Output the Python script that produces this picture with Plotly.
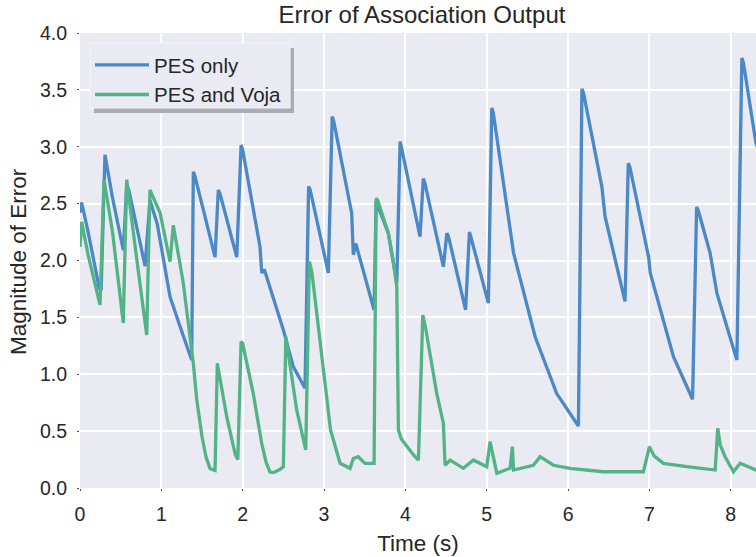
import plotly.graph_objects as go

# ---- data ----
pes_t = [0.0, 0.02, 0.10, 0.237, 0.26, 0.307, 0.40, 0.533, 0.574, 0.60, 0.80, 0.86,
         0.95, 1.107, 1.23, 1.373, 1.393, 1.41, 1.537, 1.66, 1.70, 1.72, 1.927, 1.98,
         2.00, 2.213, 2.234, 2.266, 2.50, 2.62, 2.766, 2.81, 2.83, 3.053, 3.10, 3.12,
         3.34, 3.36, 3.39, 3.615, 3.64, 3.79, 3.894, 3.935, 3.95, 4.18, 4.22, 4.24,
         4.467, 4.51, 4.53, 4.74, 4.787, 4.80, 5.02, 5.062, 5.08, 5.33, 5.595, 5.86,
         6.127, 6.17, 6.19, 6.415, 6.455, 6.70, 6.74, 6.76, 6.99, 7.01, 7.295, 7.53,
         7.58, 7.60, 7.746, 7.83, 8.075, 8.136, 8.155, 8.31, 8.35]
pes_v = [2.42, 2.51, 2.25, 1.755, 1.74, 2.93, 2.55, 2.09, 2.66, 2.62, 1.95, 2.53,
         2.32, 1.68, 1.42, 1.125, 2.78, 2.75, 2.385, 2.03, 2.62, 2.59, 2.03, 3.015,
         2.97, 2.12, 1.89, 1.92, 1.39, 1.07, 0.877, 2.65, 2.62, 1.89, 3.265, 3.22,
         2.415, 2.05, 2.15, 1.565, 2.52, 2.24, 1.80, 3.045, 3.00, 2.21, 2.72, 2.68,
         1.945, 2.24, 2.21, 1.565, 2.25, 2.22, 1.625, 3.34, 3.30, 2.065, 1.33, 0.83,
         0.545, 3.51, 3.47, 2.65, 2.385, 1.64, 2.855, 2.82, 2.03, 1.89, 1.155, 0.78,
         2.47, 2.44, 2.065, 1.71, 1.125, 3.78, 3.74, 3.03, 2.95]

voja_t = [0.0, 0.02, 0.10, 0.246, 0.295, 0.40, 0.532, 0.574, 0.70, 0.82, 0.86,
          0.984, 1.107, 1.147, 1.27, 1.393, 1.435, 1.50, 1.55, 1.60, 1.66, 1.688,
          1.804, 1.87, 1.91, 1.94, 1.98, 2.00, 2.13, 2.234, 2.29, 2.336, 2.38, 2.46,
          2.50, 2.53, 2.664, 2.775, 2.82, 2.85, 3.01, 3.08, 3.197, 3.32, 3.36, 3.42,
          3.504, 3.615, 3.64, 3.66, 3.79, 3.85, 3.894, 3.914, 3.95, 4.017, 4.10, 4.16,
          4.214, 4.25, 4.386, 4.467, 4.488, 4.55, 4.713, 4.836, 5.00, 5.041, 5.124,
          5.287, 5.315, 5.33, 5.574, 5.656, 5.82, 6.025, 6.434, 6.926, 7.0, 7.06,
          7.172, 7.46, 7.808, 7.84, 7.87, 7.93, 8.033, 8.115, 8.31, 8.35]
voja_v = [2.12, 2.34, 2.05, 1.61, 2.71, 2.25, 1.45, 2.71, 2.00, 1.345, 2.62,
          2.42, 1.99, 2.31, 1.80, 1.096, 0.775, 0.45, 0.27, 0.17, 0.155, 1.096,
          0.627, 0.40, 0.29, 0.25, 1.286, 1.27, 0.83, 0.39, 0.22, 0.14, 0.135, 0.165,
          0.187, 1.33, 0.686, 0.334, 1.99, 1.90, 0.89, 0.51, 0.217, 0.173, 0.26, 0.275,
          0.217, 0.217, 2.547, 2.53, 2.24, 2.00, 1.77, 0.51, 0.43, 0.363, 0.29, 0.246,
          1.52, 1.40, 0.83, 0.57, 0.20, 0.246, 0.173, 0.246, 0.187, 0.407, 0.13,
          0.173, 0.363, 0.158, 0.20, 0.275, 0.20, 0.173, 0.143, 0.143, 0.363, 0.28,
          0.217, 0.187, 0.158, 0.525, 0.38, 0.275, 0.143, 0.217, 0.158, 0.16]

x_ticks = [0, 1, 2, 3, 4, 5, 6, 7, 8]
y_ticks = [0.0, 0.5, 1.0, 1.5, 2.0, 2.5, 3.0, 3.5, 4.0]

BLUE = "#4a89c6"
GREEN = "#52b387"
TXT = "#262626"
FONT = "Liberation Sans, Arial, sans-serif"

fig = go.Figure()
fig.add_trace(go.Scatter(x=pes_t, y=pes_v, mode="lines", name="PES only",
                         line=dict(color=BLUE, width=3.3)))
fig.add_trace(go.Scatter(x=voja_t, y=voja_v, mode="lines", name="PES and Voja",
                         line=dict(color=GREEN, width=3.3)))

# plot area in screen px: left 80, top 33, width 676, height 455
def px_x(p):
    return (p - 80) / 676

def px_y(p):
    return (488 - p) / 455

# legend shadow and frame
fig.add_shape(type="rect", xref="paper", yref="paper",
              x0=px_x(94), x1=px_x(294), y0=px_y(113), y1=px_y(48),
              fillcolor="#a9adb4", line=dict(width=0), layer="above")
fig.add_shape(type="rect", xref="paper", yref="paper",
              x0=px_x(90), x1=px_x(290), y0=px_y(108), y1=px_y(43),
              fillcolor="#eaeaf2", line=dict(color="#f4f4f7", width=1), layer="above")

# y axis title
fig.add_annotation(text="Magnitude of Error", xref="paper", yref="paper",
                   x=px_x(18), y=px_y(262), xanchor="center", yanchor="middle",
                   textangle=-90, showarrow=False, font=dict(size=22.5, color=TXT))

fig.update_layout(
    width=756, height=557,
    margin=dict(l=80, r=0, t=33, b=69),
    paper_bgcolor="white", plot_bgcolor="#eaeaf2",
    font=dict(family=FONT, color=TXT, size=19),
    title=dict(text="Error of Association Output", x=422 / 756, xanchor="center",
               y=1 - 15 / 557, yanchor="middle", font=dict(size=24, color=TXT)),
    showlegend=True,
    legend=dict(x=px_x(90), y=px_y(45), xanchor="left", yanchor="top",
                bgcolor="rgba(0,0,0,0)", borderwidth=0,
                itemwidth=54, font=dict(size=20.5, color=TXT)),
    xaxis=dict(range=[0, 8.31], tickvals=x_ticks, ticktext=[str(v) for v in x_ticks],
               showgrid=True, gridcolor="white", gridwidth=1.5, zeroline=False,
               showline=False, ticks="outside", ticklen=2, tickcolor="#555",
               tickfont=dict(size=19.5, color=TXT), ticklabelstandoff=7,
               automargin=False,
               title=dict(text="Time (s)", font=dict(size=22.5, color=TXT), standoff=10)),
    yaxis=dict(range=[0, 4.0], tickvals=y_ticks, ticktext=[f"{v:.1f}" for v in y_ticks],
               showgrid=True, gridcolor="white", gridwidth=1.5, zeroline=False,
               showline=False, ticks="outside", ticklen=2, tickcolor="#555",
               tickfont=dict(size=19.5, color=TXT), ticklabelstandoff=6,
               automargin=False),
)

fig.write_html("out.html", config={"displayModeBar": False},
               post_script="document.body.style.margin='0px';")
